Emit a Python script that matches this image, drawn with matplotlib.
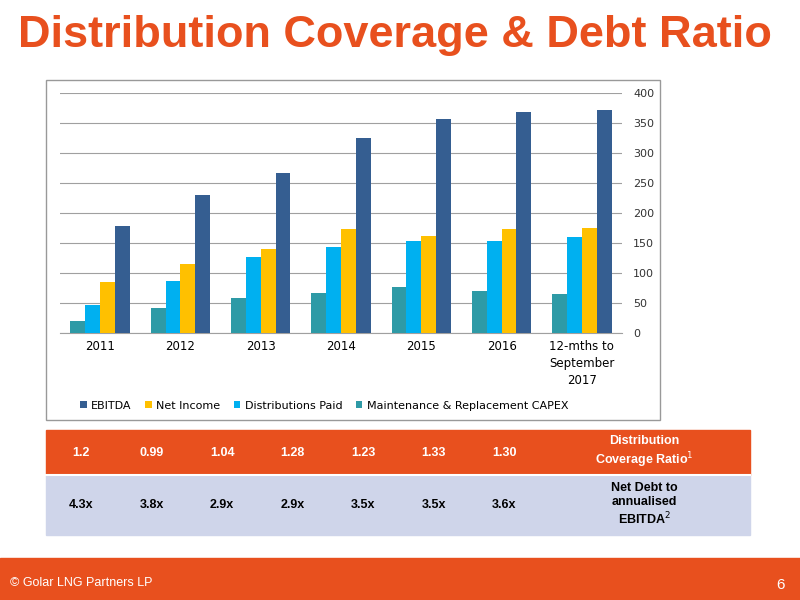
import matplotlib
matplotlib.use("Agg")
import matplotlib.pyplot as plt
import numpy as np
from matplotlib.patches import Rectangle

categories = ["2011", "2012", "2013", "2014", "2015", "2016", "12-mths to\nSeptember\n2017"]
capex = [20, 41, 58, 66, 76, 70, 65]
dist_paid = [46, 87, 126, 143, 154, 154, 160]
net_income = [85, 115, 140, 174, 162, 173, 175]
ebitda = [178, 230, 267, 325, 356, 368, 372]
coverage = ["1.2", "0.99", "1.04", "1.28", "1.23", "1.33", "1.30"]
debt_ratio = ["4.3x", "3.8x", "2.9x", "2.9x", "3.5x", "3.5x", "3.6x"]

ORANGE = "#E8501E"
W, H = 800, 600
fig = plt.figure(figsize=(8, 6), dpi=100)
fig.patch.set_facecolor("white")

def fx(x): return x / W
def fy(y): return 1 - y / H

fig.text(fx(395), fy(35), "Distribution Coverage & Debt Ratio", color=ORANGE,
         fontsize=32.5, fontweight="bold", ha="center", va="center", family="Liberation Sans")

border = Rectangle((fx(46), fy(420)), fx(614), 340 / H, transform=fig.transFigure,
                   fill=False, edgecolor="#999999", lw=1)
fig.add_artist(border)

ax = fig.add_axes([fx(60), fy(333), fx(562), 240 / H])
x = np.arange(len(categories))
w = 0.185
series = [(capex, "#2E9AA6", "Maintenance & Replacement CAPEX"),
          (dist_paid, "#00B0F0", "Distributions Paid"),
          (net_income, "#FFC000", "Net Income"),
          (ebitda, "#355E91", "EBITDA")]
handles = {}
for i, (vals, c, lab) in enumerate(series):
    handles[lab] = ax.bar(x + (i - 1.5) * w, vals, w, color=c, label=lab, zorder=3)
ax.set_xlim(-0.5, len(categories) - 0.5)
ax.set_ylim(0, 400)
ax.set_yticks(range(0, 401, 50))
ax.yaxis.tick_right()
ax.grid(axis="y", color="#A0A0A0", lw=0.8, zorder=0)
for s in ["top", "left", "right"]:
    ax.spines[s].set_visible(False)
ax.spines["bottom"].set_color("#A0A0A0")
ax.set_xticks(x)
ax.set_xticklabels(categories, fontsize=8.5, linespacing=1.4)
ax.tick_params(axis="x", length=0, pad=5)
ax.tick_params(axis="y", length=0, labelsize=8, colors="#333333", pad=8)
order = ["EBITDA", "Net Income", "Distributions Paid", "Maintenance & Replacement CAPEX"]
ax.legend([handles[k] for k in order], order, loc="upper center", bbox_to_anchor=(0.47, -0.24),
          ncol=4, frameon=False, fontsize=8, handlelength=0.6, handleheight=0.6,
          columnspacing=1.2, handletextpad=0.4)

col_edges = [46 + i * 70.5 for i in range(8)] + [750]
rows = [(430, 475, ORANGE, "white", coverage, "Distribution\nCoverage Ratio$^1$"),
        (475, 535, "#CFD5EA", "black", debt_ratio, "Net Debt to\nannualised\nEBITDA$^2$")]
for y0, y1, bg, fg, vals, lab in rows:
    fig.add_artist(Rectangle((fx(46), fy(y1)), fx(704), (y1 - y0) / H,
                             transform=fig.transFigure, color=bg, zorder=1))
    for j in range(8):
        xc = (col_edges[j] + col_edges[j + 1]) / 2
        txt = vals[j] if j < 7 else lab
        fig.text(fx(xc), fy((y0 + y1) / 2), txt, color=fg, fontsize=9, fontweight="bold",
                 ha="center", va="center", family="Liberation Sans")
fig.add_artist(plt.Line2D([fx(46), fx(750)], [fy(475), fy(475)], transform=fig.transFigure,
                          color="white", lw=1.5))

fig.add_artist(Rectangle((0, 0), 1, 42 / H, transform=fig.transFigure, color=ORANGE))
fig.text(fx(10), fy(583), "© Golar LNG Partners LP", color="white", fontsize=9,
         ha="left", va="center", family="Liberation Sans")
fig.text(fx(785), fy(585), "6", color="white", fontsize=11, ha="right", va="center",
         family="Liberation Sans")

fig.savefig("out.png", dpi=100)
